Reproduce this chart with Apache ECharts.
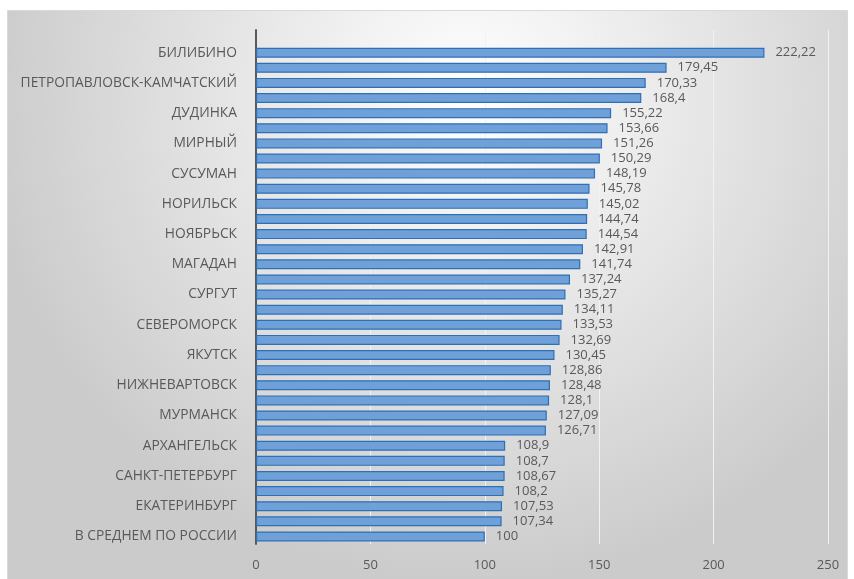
<!DOCTYPE html>
<html><head><meta charset="utf-8">
<script src="https://cdn.jsdelivr.net/npm/echarts@6/dist/echarts.min.js"></script>
<style>html,body{margin:0;padding:0;background:#fff}#c{width:854px;height:579px}</style>
</head><body><div id="c"></div>
<script>
// categories from bottom to top (empty names are unlabeled rows in the original)
const categories = [
  "В СРЕДНЕМ ПО РОССИИ", "", "ЕКАТЕРИНБУРГ", "", "САНКТ-ПЕТЕРБУРГ", "", "АРХАНГЕЛЬСК", "",
  "МУРМАНСК", "", "НИЖНЕВАРТОВСК", "", "ЯКУТСК", "", "СЕВЕРОМОРСК", "", "СУРГУТ", "",
  "МАГАДАН", "", "НОЯБРЬСК", "", "НОРИЛЬСК", "", "СУСУМАН", "", "МИРНЫЙ", "", "ДУДИНКА", "",
  "ПЕТРОПАВЛОВСК-КАМЧАТСКИЙ", "", "БИЛИБИНО", ""
];
const values = [
  100, 107.34, 107.53, 108.2, 108.67, 108.7, 108.9, 126.71,
  127.09, 128.1, 128.48, 128.86, 130.45, 132.69, 133.53, 134.11, 135.27, 137.24,
  141.74, 142.91, 144.54, 144.74, 145.02, 145.78, 148.19, 150.29, 151.26, 153.66, 155.22, 168.4,
  170.33, 179.45, 222.22, null
];
const xTicks = {min: 0, max: 250, interval: 50};

const chart = echarts.init(document.getElementById('c'), null, {renderer: 'canvas'});
chart.setOption({
  animation: false,
  backgroundColor: '#ffffff',
  graphic: [{
    type: 'rect', z: -10, silent: true,
    shape: {x: 7.5, y: 10.5, width: 840, height: 575},
    style: {
      fill: {type: 'radial', x: 0.55, y: 0.15, r: 0.85, colorStops: [
        {offset: 0, color: '#ffffff'}, {offset: 1, color: '#cbcbcb'}]},
      stroke: '#d9d9d9', lineWidth: 1
    }
  }],
  grid: {left: 256, right: 26, top: 30, bottom: 35, containLabel: false},
  xAxis: {
    type: 'value', min: xTicks.min, max: xTicks.max, interval: xTicks.interval,
    axisLine: {show: false}, axisTick: {show: false},
    axisLabel: {color: '#595959', fontSize: 13, fontFamily: 'Open Sans', margin: 15},
    splitLine: {show: true, lineStyle: {color: '#f2f2f2', width: 1}}
  },
  yAxis: {
    type: 'category', data: categories,
    axisLine: {show: true, lineStyle: {color: '#595959', width: 2}},
    axisTick: {show: false},
    axisLabel: {interval: 1, color: '#595959', fontSize: 13.8, fontFamily: 'Open Sans', margin: 19}
  },
  series: [{
    type: 'bar', data: values, barWidth: 10,
    itemStyle: {color: '#6fa0d8', borderColor: '#2e6fb5', borderWidth: 1.2},
    label: {
      show: true, position: 'right', distance: 11, color: '#595959', fontSize: 13, fontFamily: 'Open Sans',
      formatter: p => p.value == null ? '' : String(p.value).replace('.', ',')
    }
  }]
});
</script></body></html>
